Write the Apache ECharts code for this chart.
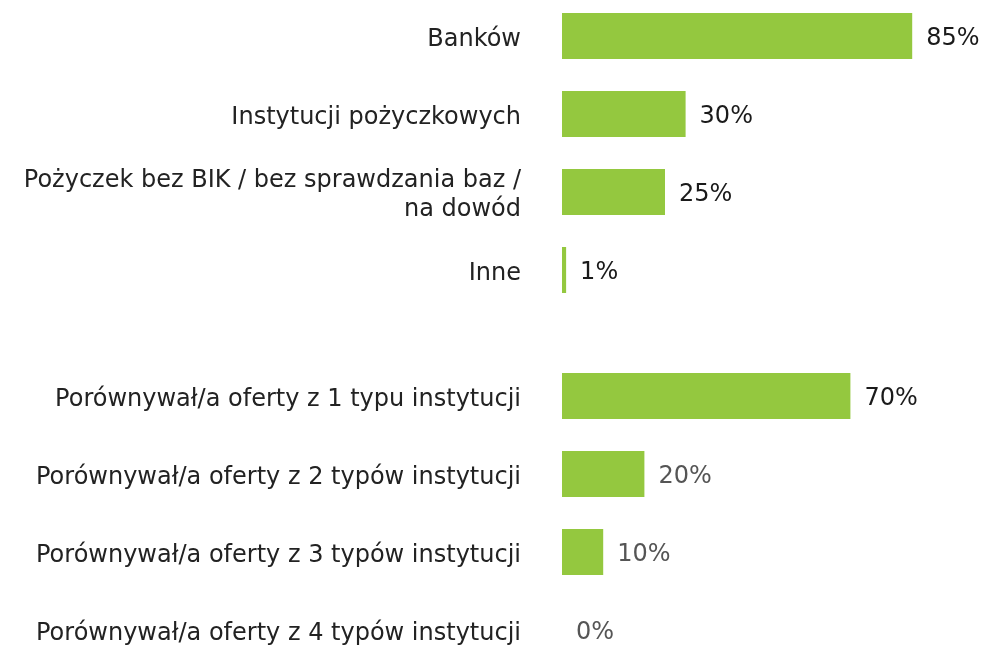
<!DOCTYPE html>
<html>
<head>
<meta charset="utf-8">
<script src="https://cdn.jsdelivr.net/npm/echarts@6/dist/echarts.min.js"></script>
<style>
  html, body { margin: 0; padding: 0; background: #fff; overflow: hidden; }
  /* canvas is taller than the window so the last row may run past the bottom edge */
  #chart { position: absolute; left: 0; top: -20px; width: 987px; height: 708px; }
</style>
</head>
<body>
<div id="chart"></div>
<script>
// first block: where respondents looked for a loan
const sourceCategories = [
  'Banków',
  'Instytucji pożyczkowych',
  'Pożyczek bez BIK / bez sprawdzania baz /\nna dowód',
  'Inne'
]
const sourceValues = [85, 30, 25, 1]

// second block: how many institution types were compared
const compareCategories = [
  'Porównywał/a oferty z 1 typu instytucji',
  'Porównywał/a oferty z 2 typów instytucji',
  'Porównywał/a oferty z 3 typów instytucji',
  'Porównywał/a oferty z 4 typów instytucji'
]
const compareValues = [70, 20, 10, 0]

const FONT = '"DejaVu Sans", sans-serif'
const GREEN = '#94c83f'
const OFFSET = 20

const chart = echarts.init(document.getElementById('chart'))

const catAxis = (gridIndex, data) => ({
  type: 'category',
  gridIndex,
  data,
  inverse: true,
  axisLine: { show: false },
  axisTick: { show: false },
  axisLabel: {
    margin: 41,
    align: 'right',
    // rich fragments so each line can be nudged down a little
    formatter: v => v.split('\n').map(s => '{t|' + s + '}').join('\n'),
    rich: {
      t: {
        color: '#222222',
        fontFamily: FONT,
        fontSize: 24,
        lineHeight: 29,
        padding: [7, 0, 0, 0],
        align: 'right'
      }
    }
  }
})

const valAxis = gridIndex => ({
  type: 'value',
  gridIndex,
  min: 0,
  max: 100,
  show: false,
  splitLine: { show: false }
})

const barSeries = (idx, values, colorOf) => ({
  type: 'bar',
  xAxisIndex: idx,
  yAxisIndex: idx,
  barWidth: 46,
  itemStyle: { color: GREEN },
  data: values.map((v, i) => ({
    value: v,
    label: { color: colorOf(i) }
  })),
  label: {
    show: true,
    position: 'right',
    distance: 14,
    offset: [0, 3],
    formatter: '{c}%',
    fontFamily: FONT,
    fontSize: 24
  }
})

chart.setOption({
  animation: false,
  grid: [
    { left: 562, width: 412, top: OFFSET - 3, height: 312 },
    { left: 562, width: 412, top: OFFSET + 357, height: 312 }
  ],
  xAxis: [valAxis(0), valAxis(1)],
  yAxis: [catAxis(0, sourceCategories), catAxis(1, compareCategories)],
  series: [
    barSeries(0, sourceValues, () => '#1a1a1a'),
    barSeries(1, compareValues, i => (i === 0 ? '#1a1a1a' : '#555555'))
  ]
})
</script>
</body>
</html>
